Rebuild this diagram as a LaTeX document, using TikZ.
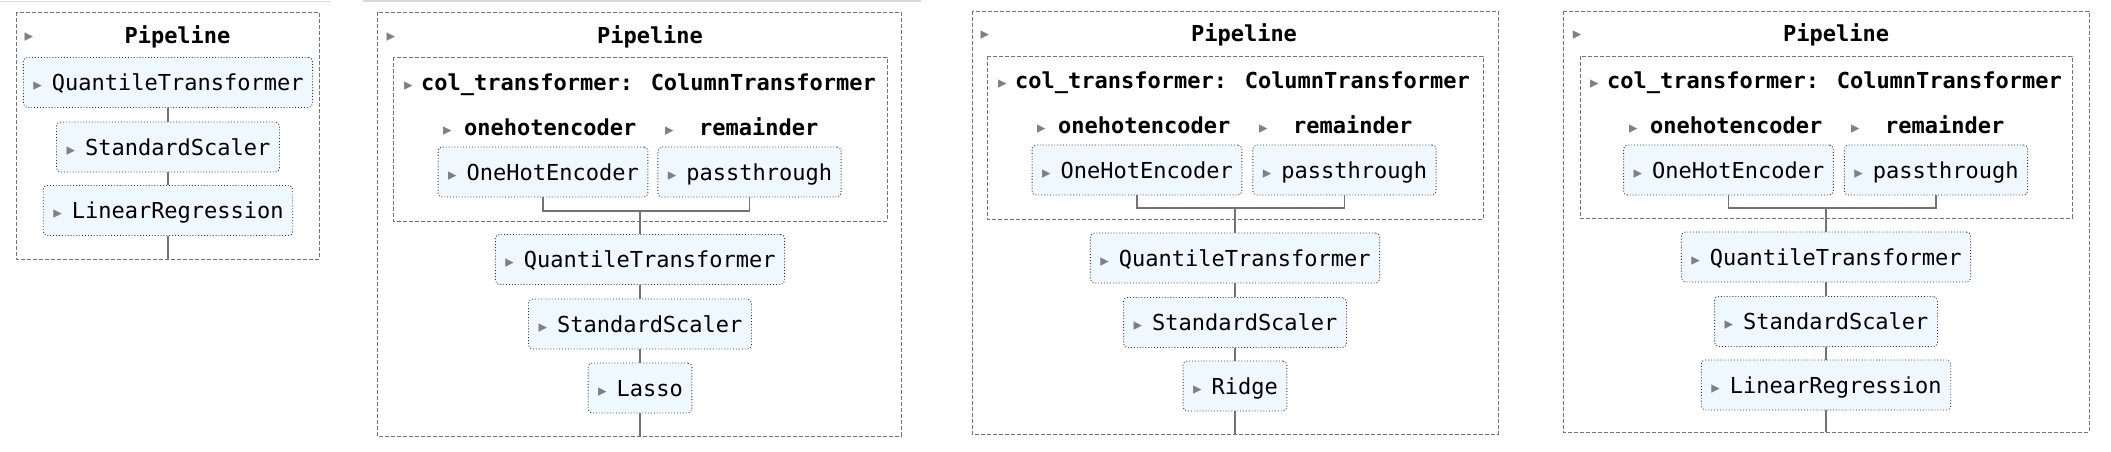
\documentclass[tikz,border=0pt]{standalone}
\usepackage{fontspec}
\usepackage{tikz}
\newfontfamily\mono{DejaVu Sans Mono}
\newfontfamily\symb{DejaVu Sans}
\definecolor{boxfill}{HTML}{F0F8FF}
\newcommand{\tri}{{\symb\fontsize{17}{17}\selectfont\color{black!50}▸}}
\newcommand{\estlabel}[1]{\makebox[19.5pt][l]{\hspace{1pt}\tri}#1}
\tikzstyle{estimator}=[draw=black!80,dotted,line width=0.9pt,fill=boxfill,rounded corners=4pt,minimum height=50pt,inner xsep=9pt,inner ysep=0pt,text height=16pt,text depth=0pt,font=\mono\fontsize{22}{26}\selectfont]
\tikzstyle{header}=[inner sep=0pt,text height=16pt,text depth=0pt,font=\mono\bfseries\fontsize{22}{26}\selectfont]
\tikzstyle{marker}=[inner sep=0pt,font=\symb\fontsize{17}{17}\selectfont,text=black!50]
\tikzstyle{pipe}=[draw=black!55,dash pattern=on 4pt off 2pt,line width=1pt]
\tikzstyle{link}=[draw=black!55,line width=1.3pt]
\tikzstyle{rule}=[draw=black!15,line width=1.5pt]

\begin{document}
\begin{tikzpicture}[x=1pt,y=-1pt]
        \useasboundingbox (0,0) rectangle (2111,451);
        \draw[rule] (0,1.5) -- (330,1.5);
        \draw[rule] (363,1) -- (921,1);
        % first pipeline
        \draw[pipe] (16,12) rectangle (319,259);
        \node[marker] (m1) at (29,37) {▸};
        \node[header] (p1) at (177.5,35) {Pipeline};
        \node[estimator] (qt1) at (168,82.5) {\estlabel{QuantileTransformer}};
        \node[estimator] (ss1) at (168,147) {\estlabel{StandardScaler}};
        \node[estimator] (lr1) at (168,210.5) {\estlabel{LinearRegression}};
        \coordinate (e1) at (168,259);
        \draw[link] (qt1) -- (ss1);
        \draw[link] (ss1) -- (lr1);
        \draw[link] (lr1) -- (e1);
        % second pipeline
        \draw[pipe] (377,12) rectangle (901,436);
        \draw[pipe] (393,57) rectangle (887,221);
        \node[marker] (m2) at (391,37) {▸};
        \node[header] (p2) at (650,35) {Pipeline};
        \node[header,anchor=west] (ct2) at (404,82) {\makebox[17pt][l]{\tri}col\_transformer: ColumnTransformer};
        \node[header,anchor=west] (oh2) at (443,127) {\makebox[21pt][l]{\tri}onehotencoder};
        \node[header,anchor=west] (rm2) at (665,127) {\makebox[34pt][l]{\tri}remainder};
        \node[estimator] (ohe2) at (543,172) {\estlabel{OneHotEncoder}};
        \node[estimator] (pt2) at (749.5,172) {\estlabel{passthrough}};
        \node[estimator] (qt2) at (640,259.5) {\estlabel{QuantileTransformer}};
        \node[estimator] (ss2) at (640,324) {\estlabel{StandardScaler}};
        \node[estimator] (lasso) at (640,388) {\estlabel{Lasso}};
        \coordinate (j2) at (640,211);
        \coordinate (e2) at (640,436);
        \draw[link] (ohe2.south) |- (j2) -| (pt2.south);
        \draw[link] (j2) -- (qt2);
        \draw[link] (qt2) -- (ss2);
        \draw[link] (ss2) -- (lasso);
        \draw[link] (lasso) -- (e2);
        % third pipeline
        \draw[pipe] (972,11) rectangle (1498,434);
        \draw[pipe] (987,56) rectangle (1483,219);
        \node[marker] (m3) at (985,35) {▸};
        \node[header] (p3) at (1244,33.5) {Pipeline};
        \node[header,anchor=west] (ct3) at (998,80.5) {\makebox[17pt][l]{\tri}col\_transformer: ColumnTransformer};
        \node[header,anchor=west] (oh3) at (1037,125) {\makebox[21pt][l]{\tri}onehotencoder};
        \node[header,anchor=west] (rm3) at (1259,125) {\makebox[34pt][l]{\tri}remainder};
        \node[estimator] (ohe3) at (1137,170) {\estlabel{OneHotEncoder}};
        \node[estimator] (pt3) at (1344.5,170) {\estlabel{passthrough}};
        \node[estimator] (qt3) at (1235,258) {\estlabel{QuantileTransformer}};
        \node[estimator] (ss3) at (1235,322.5) {\estlabel{StandardScaler}};
        \node[estimator] (ridge) at (1235,386) {\estlabel{Ridge}};
        \coordinate (j3) at (1235,208);
        \coordinate (e3) at (1235,434);
        \draw[link] (ohe3.south) |- (j3) -| (pt3.south);
        \draw[link] (j3) -- (qt3);
        \draw[link] (qt3) -- (ss3);
        \draw[link] (ss3) -- (ridge);
        \draw[link] (ridge) -- (e3);
        % fourth pipeline
        \draw[pipe] (1563,11) rectangle (2089,432);
        \draw[pipe] (1580,56) rectangle (2072,218);
        \node[marker] (m4) at (1577,35) {▸};
        \node[header] (p4) at (1836,33.5) {Pipeline};
        \node[header,anchor=west] (ct4) at (1590,80.5) {\makebox[17pt][l]{\tri}col\_transformer: ColumnTransformer};
        \node[header,anchor=west] (oh4) at (1629,125) {\makebox[21pt][l]{\tri}onehotencoder};
        \node[header,anchor=west] (rm4) at (1851,125) {\makebox[34pt][l]{\tri}remainder};
        \node[estimator] (ohe4) at (1728.5,170) {\estlabel{OneHotEncoder}};
        \node[estimator] (pt4) at (1936,170) {\estlabel{passthrough}};
        \node[estimator] (qt4) at (1826,257) {\estlabel{QuantileTransformer}};
        \node[estimator] (ss4) at (1826,321.5) {\estlabel{StandardScaler}};
        \node[estimator] (lr4) at (1826,385) {\estlabel{LinearRegression}};
        \coordinate (j4) at (1826,208);
        \coordinate (e4) at (1826,432);
        \draw[link] (ohe4.south) |- (j4) -| (pt4.south);
        \draw[link] (j4) -- (qt4);
        \draw[link] (qt4) -- (ss4);
        \draw[link] (ss4) -- (lr4);
        \draw[link] (lr4) -- (e4);
      \end{tikzpicture}
\end{document}
